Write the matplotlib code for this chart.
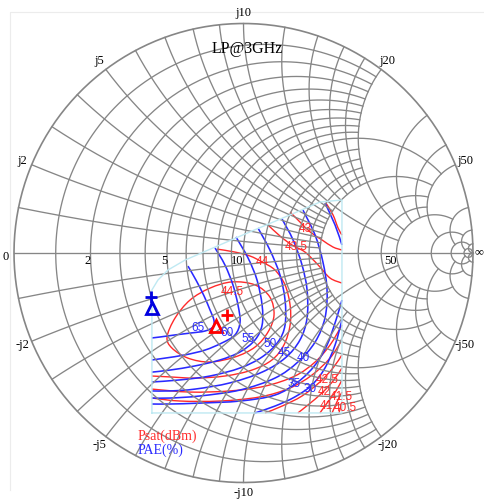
import numpy as np
import matplotlib.pyplot as plt
from matplotlib.path import Path
from matplotlib.patches import PathPatch

# load-pull contours at 3 GHz, points are load reflection coefficient (re, im)
# Psat (dBm)
psat_44p5 = [(-0.333, -0.366), (-0.298, -0.283), (-0.233, -0.205), (-0.146, -0.153), (-0.050, -0.126),
             (0.050, -0.139), (0.115, -0.192), (0.133, -0.270), (0.107, -0.344), (0.050, -0.410),
             (-0.037, -0.453), (-0.146, -0.475), (-0.242, -0.458), (-0.312, -0.414), (-0.333, -0.366)]
psat_44 = [(-0.115, 0.017), (-0.037, 0.004), (0.028, -0.013), (0.081, -0.039), (0.137, -0.074),
           (0.181, -0.139), (0.203, -0.227), (0.203, -0.314), (0.176, -0.401), (0.124, -0.466),
           (0.037, -0.510), (-0.081, -0.536), (-0.211, -0.545), (-0.320, -0.540), (-0.399, -0.536)]
psat_43p5_a = [(0.107, 0.122), (0.159, 0.074), (0.211, 0.035), (0.268, 0.004), (0.325, -0.052),
               (0.377, -0.109), (0.429, -0.131)]
psat_43p5_b = [(0.429, -0.314), (0.377, -0.401), (0.312, -0.475), (0.224, -0.536), (0.094, -0.580),
               (-0.059, -0.601), (-0.233, -0.606), (-0.399, -0.593)]
psat_43_a = [(0.203, 0.179), (0.246, 0.135), (0.290, 0.092), (0.342, 0.057), (0.390, 0.026), (0.429, 0.013)]
psat_43_b = [(0.429, -0.379), (0.377, -0.458), (0.298, -0.532), (0.203, -0.588), (0.072, -0.627),
             (-0.102, -0.645), (-0.277, -0.645), (-0.399, -0.632)]
psat_42p5_a = [(0.359, 0.218), (0.390, 0.166), (0.412, 0.109), (0.429, 0.078)]
psat_42p5_b = [(0.429, -0.444), (0.390, -0.501), (0.333, -0.562), (0.255, -0.623), (0.168, -0.667), (0.094, -0.697)]
psat_42 = [(0.429, -0.501), (0.394, -0.553), (0.342, -0.610), (0.281, -0.662), (0.237, -0.697)]
psat_41p5 = [(0.429, -0.553), (0.403, -0.601), (0.364, -0.654), (0.333, -0.697)]
psat_41 = [(0.429, -0.606), (0.407, -0.649), (0.386, -0.697)]
psat_40p5 = [(0.429, -0.649), (0.416, -0.697)]

# PAE (%)
pae_65 = [(-0.242, -0.057), (-0.207, -0.118), (-0.172, -0.187), (-0.146, -0.248), (-0.129, -0.292),
          (-0.133, -0.322), (-0.168, -0.340), (-0.233, -0.349), (-0.298, -0.357), (-0.364, -0.366), (-0.399, -0.370)]
pae_60 = [(-0.124, 0.022), (-0.081, -0.052), (-0.046, -0.139), (-0.024, -0.227), (-0.015, -0.301),
          (-0.037, -0.357), (-0.094, -0.392), (-0.168, -0.423), (-0.255, -0.444), (-0.342, -0.458), (-0.399, -0.466)]
pae_55 = [(-0.033, 0.070), (0.020, -0.022), (0.059, -0.118), (0.081, -0.227), (0.081, -0.314),
          (0.050, -0.379), (-0.015, -0.431), (-0.102, -0.466), (-0.211, -0.492), (-0.320, -0.510), (-0.399, -0.519)]
pae_50 = [(0.063, 0.109), (0.115, 0.013), (0.159, -0.096), (0.181, -0.205), (0.181, -0.314),
          (0.150, -0.388), (0.081, -0.453), (-0.015, -0.501), (-0.146, -0.536), (-0.277, -0.553), (-0.399, -0.562)]
pae_45 = [(0.168, 0.148), (0.216, 0.057), (0.255, -0.052), (0.277, -0.161), (0.277, -0.283), (0.246, -0.379),
          (0.181, -0.458), (0.081, -0.519), (-0.059, -0.566), (-0.211, -0.593), (-0.320, -0.601), (-0.399, -0.601)]
pae_40 = [(0.259, 0.187), (0.312, 0.078), (0.346, -0.039), (0.364, -0.161), (0.355, -0.283), (0.312, -0.388),
          (0.237, -0.475), (0.137, -0.545), (-0.015, -0.597), (-0.190, -0.623), (-0.320, -0.632), (-0.399, -0.632)]
pae_35_a = [(0.355, 0.218), (0.399, 0.122), (0.429, 0.035)]
pae_35_b = [(0.429, -0.205), (0.403, -0.292), (0.364, -0.401), (0.312, -0.488), (0.237, -0.562),
            (0.137, -0.619), (-0.015, -0.645), (-0.190, -0.654), (-0.320, -0.658), (-0.399, -0.658)]
pae_30 = [(0.429, -0.292), (0.399, -0.401), (0.355, -0.501), (0.298, -0.575), (0.224, -0.627),
          (0.137, -0.667), (0.050, -0.697)]

psat_lines = [psat_44p5, psat_44, psat_43p5_a, psat_43p5_b, psat_43_a, psat_43_b,
              psat_42p5_a, psat_42p5_b, psat_42, psat_41p5, psat_41, psat_40p5]
pae_lines = [pae_65, pae_60, pae_55, pae_50, pae_45, pae_40, pae_35_a, pae_35_b, pae_30]

psat_labels = ['44.5', '44', '43.5', '43', '42.5', '42', '41.5', '41', '40.5']
psat_label_pos = [(-0.050, -0.170), (0.081, -0.039), (0.229, 0.026), (0.268, 0.105), (0.364, -0.553),
                  (0.350, -0.605), (0.425, -0.629), (0.360, -0.668), (0.442, -0.676)]
pae_labels = ['65', '60', '55', '50', '45', '40', '35', '30']
pae_label_pos = [(-0.198, -0.327), (-0.072, -0.349), (0.020, -0.375), (0.115, -0.397), (0.176, -0.436),
                 (0.259, -0.458), (0.220, -0.571), (0.290, -0.593)]

# optimum points: max Psat / max PAE ("+" and triangle)
psat_opt = [(-0.072, -0.270), (-0.120, -0.318)]
pae_opt = [(-0.403, -0.192), (-0.399, -0.240)]

# swept load region
region = [(-0.399, -0.697), (-0.399, -0.161), (-0.373, -0.118), (-0.329, -0.074), (-0.255, -0.031),
          (-0.133, 0.022), (0.028, 0.092), (0.203, 0.166), (0.333, 0.222), (0.429, 0.231),
          (0.429, -0.697), (-0.399, -0.697)]

# smith chart grid (normalised to 10 ohm)
z0 = 10
grid_vals = [0.1, 0.2, 0.3, 0.4, 0.5, 0.6, 0.7, 0.8, 0.9, 1.0, 1.2, 1.4, 1.6, 1.8, 2, 3, 4, 5, 10, 20, 50]
grid_lim = {1.0: 5, 2: 5, 3: 5, 4: 5, 5: 10, 10: 20, 20: 50, 50: np.inf}
real_labels = [0, 2, 5, 10, 50]
imag_labels = [2, 5, 10, 20, 50]

red = '#ff2a2a'
blue = '#2a2aff'
gcol = '#868686'
serif = 'Liberation Serif'


def gamma(z):
    return (z - 1) / (z + 1)


def smooth(pts):
    # catmull-rom drawn as cubic bezier
    p = np.array(pts, dtype=float)
    closed = np.allclose(p[0], p[-1])
    n = len(p)
    verts = [p[0]]
    codes = [Path.MOVETO]
    for i in range(n - 1):
        if i > 0:
            p0 = p[i - 1]
        else:
            p0 = p[-2] if closed else p[0]
        if i + 2 < n:
            p3 = p[i + 2]
        else:
            p3 = p[1] if closed else p[-1]
        p1, p2 = p[i], p[i + 1]
        verts += [p1 + (p2 - p0) / 6, p2 - (p3 - p1) / 6, p2]
        codes += [Path.CURVE4] * 3
    return Path(verts, codes)


fig = plt.figure(figsize=(4.85, 5.01), dpi=100)
ax = fig.add_axes([0, 0, 1, 1])
ax.set_xlim(-243.5 / 229.5, 241.5 / 229.5)
ax.set_ylim(-248 / 229.5, 253 / 229.5)
ax.axis('off')

# faint frame
ax.plot([-1.017, -1.017, 1.2], [-1.033, 1.050, 1.050], color='#ececec', lw=0.8)

for v in grid_vals:
    lim = grid_lim.get(v, 2)
    t = np.linspace(-np.arctan(lim), np.arctan(lim), 300)
    g = gamma(v + 1j * np.tan(t))
    ax.plot(g.real, g.imag, color=gcol, lw=0.95)
    s = np.linspace(0, np.arctan(lim), 300)
    for sgn in (1, -1):
        g = gamma(np.tan(s) + 1j * sgn * v)
        ax.plot(g.real, g.imag, color=gcol, lw=0.95)

th = np.linspace(0, 2 * np.pi, 500)
ax.plot(np.cos(th), np.sin(th), color=gcol, lw=1.2)
ax.plot([-1, 1], [0, 0], color=gcol, lw=0.95)

# axis labels
for r in real_labels:
    g = gamma(r / z0).real
    if r == 0:
        ax.text(g - 0.022, -0.018, '0', ha='right', va='center', fontsize=9, family=serif)
    else:
        ax.text(g, -0.01, str(r), ha='right', va='top', fontsize=9, family=serif)
ax.text(1.006, 0.005, '\u221e', ha='left', va='center', fontsize=9, family=serif)
for x in imag_labels:
    for sgn, pre in ((1, 'j'), (-1, '-j')):
        g = gamma(1j * sgn * x / z0)
        ang = np.angle(g)
        ax.text(1.045 * np.cos(ang), 1.045 * np.sin(ang), pre + str(x), ha='center', va='center',
                fontsize=9, family=serif)

ax.text(0.015, 0.89, 'LP@3GHz', ha='center', va='center', fontsize=11.5, family=serif)

# sweep region
rx, ry = zip(*region)
ax.plot(rx, ry, color='#bfe9f2', lw=1.0)

for line in psat_lines:
    ax.add_patch(PathPatch(smooth(line), fill=False, edgecolor=red, lw=1.0))
for line in pae_lines:
    ax.add_patch(PathPatch(smooth(line), fill=False, edgecolor=blue, lw=1.15))

for lab, (x, y) in zip(psat_labels, psat_label_pos):
    ax.text(x, y, lab, color=red, fontsize=8.5, ha='center', va='center', family='Liberation Sans')
for lab, (x, y) in zip(pae_labels, pae_label_pos):
    ax.text(x, y, lab, color=blue, fontsize=8.5, ha='center', va='center', family='Liberation Sans')

ax.plot(*psat_opt[0], marker='+', color='#ff0000', ms=9, mew=2)
ax.plot(*psat_opt[1], marker='^', mfc='none', mec='#ff0000', ms=8.5, mew=2)
ax.plot(*pae_opt[0], marker='+', color='#0000e0', ms=9, mew=2)
ax.plot(*pae_opt[1], marker='^', mfc='none', mec='#0000e0', ms=8.5, mew=2)

ax.text(-0.46, -0.800, 'Psat(dBm)', color=red, fontsize=10, ha='left', va='center', family=serif)
ax.text(-0.46, -0.861, 'PAE(%)', color=blue, fontsize=10, ha='left', va='center', family=serif)

fig.savefig('out.png', dpi=100)
